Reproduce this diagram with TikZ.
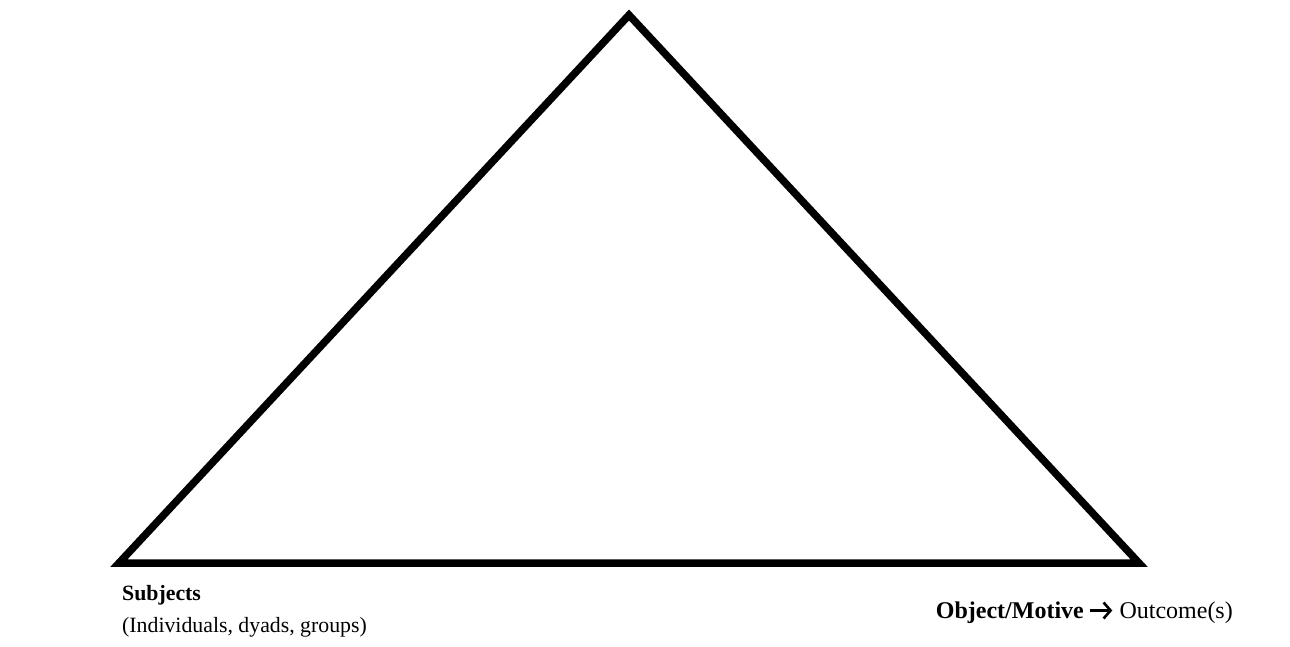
\documentclass[tikz,border=0pt]{standalone}
\usepackage{fontspec}
\setmainfont{Liberation Serif}
\usetikzlibrary{arrows.meta}
\begin{document}
\begin{tikzpicture}[x=1pt,y=-1pt,
  edge/.style={line width=7.5pt,line join=miter},
  lbl/.style={inner sep=0pt,anchor=base west,font=\fontsize{21.8}{26}\selectfont},
  rlbl/.style={inner sep=0pt,anchor=base east,font=\fontsize{24}{28}\selectfont},
  arr/.style={line width=2.6pt,-{Straight Barb[length=7pt,width=16pt,sharp]}}]
\useasboundingbox (0,0) rectangle (1290,647);
\coordinate (top) at (629,15);
\coordinate (sub) at (119,563);
\coordinate (obj) at (1139,563);
\draw[edge] (top) -- (sub) -- (obj) -- cycle;
\node[lbl] (s1) at (122,600) {\textbf{Subjects}};
\node[lbl] (s2) at (122,632) {(Individuals, dyads, groups)};
\node[rlbl] (o2) at (1233,618) {Outcome(s)};
\node[rlbl] (o1) at (1084,618) {\textbf{Object/Motive}};
\draw[arr] ([xshift=6pt,yshift=7.5pt]o1.base east) -- ([xshift=-7pt,yshift=7.5pt]o2.base west);
\end{tikzpicture}
\end{document}
